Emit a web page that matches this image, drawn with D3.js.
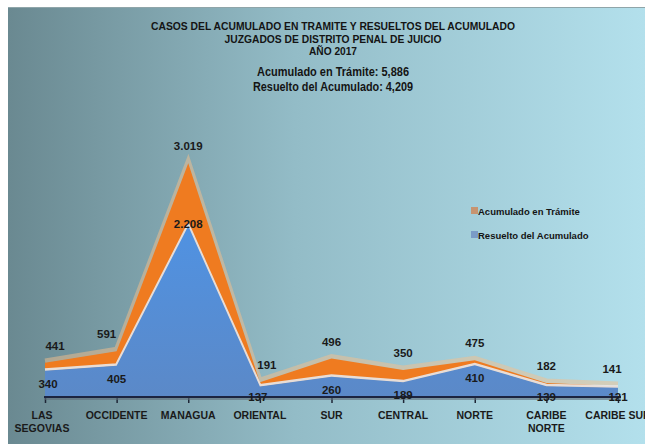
<!DOCTYPE html>
<html>
<head>
<meta charset="utf-8">
<script src="https://cdn.jsdelivr.net/npm/d3@7.9.0/dist/d3.min.js"></script>
<style>
  html, body { margin: 0; padding: 0; background: #fff; }
  svg { display: block; font-family: "Liberation Sans Narrow", "Liberation Sans", Arial, sans-serif; }
</style>
</head>
<body>
<svg id="chart" width="645" height="444"></svg>
<script>
const categories = ['LAS SEGOVIAS', 'OCCIDENTE', 'MANAGUA', 'ORIENTAL', 'SUR', 'CENTRAL', 'NORTE', 'CARIBE NORTE', 'CARIBE SUR'];
const tickLabels = [['LAS', 'SEGOVIAS'], ['OCCIDENTE'], ['MANAGUA'], ['ORIENTAL'], ['SUR'], ['CENTRAL'], ['NORTE'], ['CARIBE', 'NORTE'], ['CARIBE SUR']];
const tramite = [441, 591, 3019, 191, 496, 350, 475, 182, 141];
const resuelto = [340, 405, 2208, 137, 260, 189, 410, 139, 121];
const titleLines = ['CASOS  DEL ACUMULADO EN TRAMITE Y RESUELTOS DEL ACUMULADO', 'JUZGADOS DE DISTRITO  PENAL DE JUICIO', 'AÑO 2017'];
const titleWidths = [364, 217, 48];
const seriesNames = ['Acumulado en Trámite', 'Resuelto del Acumulado'];

const svg = d3.select('#chart');
const width = 645;
const height = 444;
const baseY = 397;

const defs = svg.append('defs');
const bg = defs.append('linearGradient').attr('id', 'bg').attr('x1', 0).attr('x2', 1).attr('y1', 0).attr('y2', 0);
bg.append('stop').attr('offset', 0).attr('stop-color', '#6a8991');
bg.append('stop').attr('offset', 0.45).attr('stop-color', '#93bcc7');
bg.append('stop').attr('offset', 1).attr('stop-color', '#b3e0ec');

const blueGrad = defs.append('linearGradient').attr('id', 'blueGrad').attr('x1', 0).attr('x2', 0).attr('y1', 0).attr('y2', 1);
blueGrad.append('stop').attr('offset', 0).attr('stop-color', '#5092e2');
blueGrad.append('stop').attr('offset', 1).attr('stop-color', '#5b89c8');

// background panel
svg.append('rect').attr('width', width).attr('height', height).attr('fill', '#ffffff');
svg.append('rect').attr('x', 8).attr('y', 7).attr('width', width - 8).attr('height', height - 7).attr('fill', 'url(#bg)');
svg.append('line').attr('x1', 8).attr('x2', width).attr('y1', 7.5).attr('y2', 7.5).attr('stroke', '#8fa5a9').attr('stroke-width', 1);

const x = d3.scalePoint().domain(categories).range([45, 618]);
const y = d3.scaleLinear().domain([0, 3100]).range([baseY, 157]);

const fmtDot = d3.formatLocale({ decimal: ',', thousands: '.', grouping: [3], currency: ['', ''] }).format(',');
const fmtComma = d3.format(',');

const areaOf = (values) => d3.area()
  .x((d, i) => x(categories[i]))
  .y0(baseY)
  .y1((d) => y(d))
  .curve(d3.curveLinear)(values);
const lineOf = (values, dy) => d3.line()
  .x((d, i) => x(categories[i]))
  .y((d) => y(d) + dy)
  .curve(d3.curveLinear)(values);

// orange series behind
svg.append('path').attr('d', lineOf(tramite, -2)).attr('fill', 'none')
  .attr('stroke', '#f5c08c').attr('stroke-width', 5).attr('opacity', 0.5);
svg.append('path').attr('d', areaOf(tramite)).attr('fill', '#ef7b20');

// blue series in front
svg.append('path').attr('d', lineOf(resuelto, -1)).attr('fill', 'none')
  .attr('stroke', '#e6eef7').attr('stroke-width', 3).attr('opacity', 0.85);
svg.append('path').attr('d', areaOf(resuelto)).attr('fill', 'url(#blueGrad)');

// axis
const axis = svg.append('g').attr('transform', `translate(0,${baseY})`)
  .call(d3.axisBottom(x).tickSize(6).tickFormat(''));
axis.select('.domain').remove();
axis.selectAll('.tick line').attr('stroke', '#1e2636').attr('stroke-width', 1.5);
svg.append('line').attr('x1', 44).attr('x2', 621).attr('y1', baseY + 2).attr('y2', baseY + 2)
  .attr('stroke', '#5d6b78').attr('stroke-width', 2).attr('opacity', 0.6);
svg.append('line').attr('x1', 44).attr('x2', 621).attr('y1', baseY).attr('y2', baseY)
  .attr('stroke', '#1c2440').attr('stroke-width', 2);

// category labels
const labelX = (d) => x(d) - (d === 'LAS SEGOVIAS' ? 3 : 0);
const tickText = svg.append('g').selectAll('text').data(categories).join('text')
  .attr('x', labelX)
  .attr('y', 419)
  .attr('text-anchor', 'middle')
  .attr('font-size', 10.5)
  .attr('font-weight', 'bold')
  .attr('fill', '#1a1a1a');
tickText.each(function (d, i) {
  d3.select(this).selectAll('tspan').data(tickLabels[i]).join('tspan')
    .attr('x', labelX(d))
    .attr('dy', (t, j) => (j === 0 ? 0 : 13))
    .text((t) => t);
});

// value labels
const valueFmt = (v) => (v >= 1000 ? fmtDot(v) : String(v));
svg.append('g').selectAll('text').data(tramite).join('text')
  .attr('x', (d, i) => x(categories[i]) + (i === 0 ? 10 : i === 1 ? -10 : i === 3 ? 7 : i === categories.length - 1 ? -6 : 0))
  .attr('y', (d) => y(d) - 13)
  .attr('text-anchor', 'middle')
  .attr('font-size', 11.5)
  .attr('font-weight', 'bold')
  .attr('fill', '#1a1a1a')
  .text(valueFmt);
svg.append('g').selectAll('text').data(resuelto).join('text')
  .attr('x', (d, i) => x(categories[i]) + (i === 0 ? 3 : i === 3 ? -2 : 0))
  .attr('y', (d) => (d >= 1000 ? y(d) + 2 : Math.min(y(d) + 17, 401)))
  .attr('text-anchor', 'middle')
  .attr('font-size', 11.5)
  .attr('font-weight', 'bold')
  .attr('fill', '#1a1a1a')
  .text(valueFmt);

// titles
svg.append('g').selectAll('text').data(titleLines).join('text')
  .attr('x', 333)
  .attr('y', (d, i) => 30 + i * 12.5)
  .attr('text-anchor', 'middle')
  .attr('font-size', 11)
  .attr('font-weight', 'bold')
  .attr('fill', '#141414')
  .attr('textLength', (d, i) => titleWidths[i])
  .attr('lengthAdjust', 'spacingAndGlyphs')
  .text((d) => d);

const totals = [
  `${seriesNames[0]}: ${fmtComma(d3.sum(tramite))}`,
  `${seriesNames[1]}: ${fmtComma(d3.sum(resuelto))}`,
];
svg.append('g').selectAll('text').data(totals).join('text')
  .attr('x', 333)
  .attr('y', (d, i) => 76 + i * 14.5)
  .attr('text-anchor', 'middle')
  .attr('font-size', 13.5)
  .attr('font-weight', 'bold')
  .attr('fill', '#141414')
  .attr('textLength', (d, i) => (i === 0 ? 152 : 160))
  .attr('lengthAdjust', 'spacingAndGlyphs')
  .text((d) => d);

// legend
const legendColors = ['#c79470', '#7a9bc6'];
const legend = svg.append('g').selectAll('g').data(seriesNames).join('g')
  .attr('transform', (d, i) => `translate(471,${207 + i * 24})`);
legend.append('rect').attr('width', 7).attr('height', 7).attr('fill', (d, i) => legendColors[i]);
legend.append('text').attr('x', 7).attr('y', 7.5)
  .attr('font-size', 9.5)
  .attr('font-weight', 'bold')
  .attr('fill', '#141414')
  .text((d) => d);
</script>
</body>
</html>
